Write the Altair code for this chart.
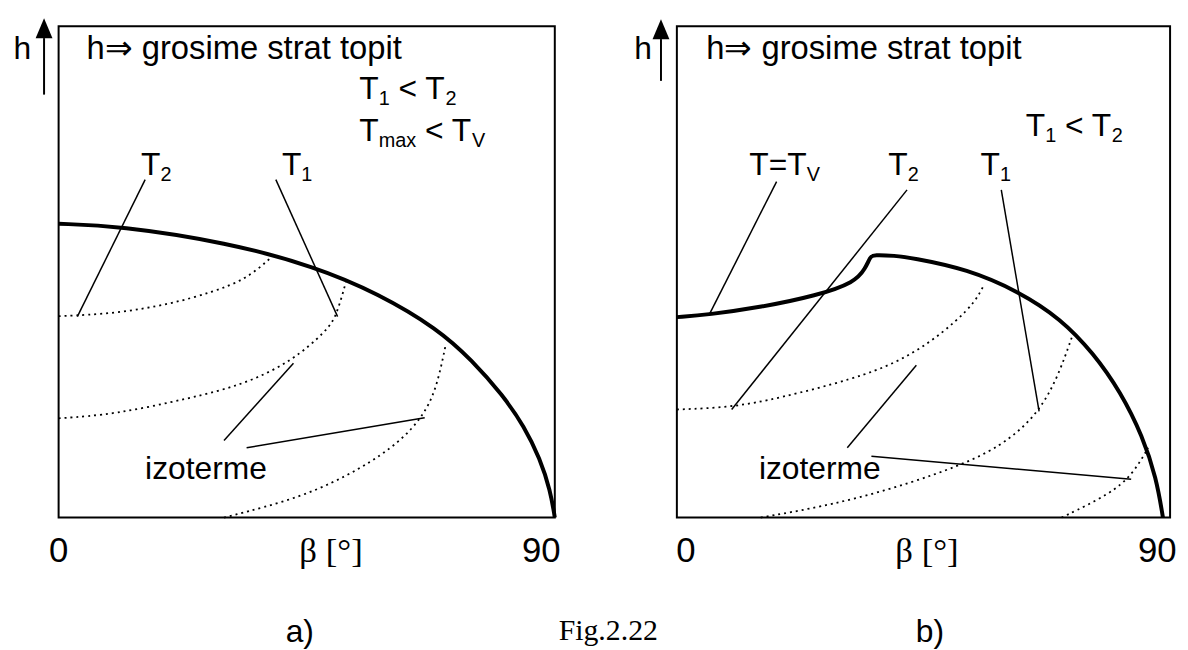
import altair as alt
import pandas as pd

# ---------------- panel a) ----------------
a_front_x = [0, 10.8, 30.6, 46.5, 58.0, 68.8, 75.0, 80.5, 84.5, 87.3, 89.2, 90]
a_front_h = [59.8, 59.4, 56.0, 51.1, 45.6, 38.4, 32.0, 25.0, 18.5, 12.0, 5.5, 0]

a_iso1_x = [0, 10.2, 20.4, 27.9, 34.0, 38.2]
a_iso1_h = [41.0, 41.5, 43.5, 45.9, 48.5, 52.6]
a_iso2_x = [0, 10.2, 23.8, 33.4, 42.2, 48.7, 50.4, 52.1]
a_iso2_h = [20.2, 21.0, 24.3, 27.0, 31.7, 38.1, 41.1, 47.9]
a_iso3_x = [30.0, 44.3, 55.0, 62.0, 66.0, 68.5, 70.2]
a_iso3_h = [0, 4.1, 10.0, 15.5, 20.5, 26.0, 35.1]

# leader lines: x1, h1, x2, h2
a_lead_x1 = [15.7, 39.4, 30.0, 34.1]
a_lead_h1 = [68.8, 68.8, 15.7, 14.2]
a_lead_x2 = [3.4, 50.6, 42.6, 66.4]
a_lead_h2 = [40.9, 40.9, 31.4, 20.3]

# ---------------- panel b) ----------------
b_front_x = [0, 5.7, 15.3, 25.6, 32.5, 34.4, 35.3, 35.9, 39.8, 42.7, 53.0, 62.6, 70.0, 76.0, 81.0, 85.0, 87.5, 88.7]
b_front_h = [40.8, 41.3, 42.8, 45.2, 47.9, 50.7, 53.1, 53.5, 53.3, 52.9, 50.6, 45.9, 40.5, 33.5, 25.5, 16.5, 8.0, 0]

b_iso1_x = [0, 9.8, 18.7, 32.5, 40.0, 46.0, 51.0, 54.5, 56.1]
b_iso1_h = [22.0, 22.4, 24.3, 28.3, 31.5, 35.5, 40.0, 44.0, 47.5]
b_iso2_x = [15.3, 32.5, 53.0, 61.0, 66.1, 69.5, 72.2]
b_iso2_h = [0, 3.4, 10.8, 16.0, 21.6, 28.5, 37.1]
b_iso3_x = [70.2, 79.1, 83.2, 86.0]
b_iso3_h = [0, 4.8, 8.8, 14.2]

b_lead_x1 = [18.2, 42.0, 59.2, 31.1, 35.5]
b_lead_h1 = [68.4, 66.7, 66.7, 14.2, 12.5]
b_lead_x2 = [6.0, 10.0, 66.1, 43.7, 82.9]
b_lead_h2 = [41.5, 22.0, 21.6, 31.0, 7.8]

# ---------------- texts: x, h, text, size, align, font ----------------
SANS = "Liberation Sans"
SERIF = "Liberation Serif"
a_texts = [
    (5.04, 93.33, "h\u21d2 grosime strat topit", 33, "left", SANS),
    (54.54, 85.25, "T", 32, "left", SANS),
    (58.06, 84.04, "1", 20, "left", SANS),
    (61.66, 85.25, "< T", 32, "left", SANS),
    (70.16, 84.04, "2", 20, "left", SANS),
    (54.54, 76.57, "T", 32, "left", SANS),
    (58.06, 75.35, "max", 20, "left", SANS),
    (66.47, 76.57, "< T", 32, "left", SANS),
    (74.96, 75.35, "V", 20, "left", SANS),
    (14.94, 69.70, "T", 32, "left", SANS),
    (18.47, 68.48, "2", 20, "left", SANS),
    (40.50, 69.70, "T", 32, "left", SANS),
    (44.02, 68.48, "1", 20, "left", SANS),
    (26.73, 7.88, "izoterme", 32, "center", SANS),
    (-6.57, 93.33, "h", 32, "center", SANS),
    (0.0, -9.09, "0", 35, "center", SANS),
    (49.41, -9.09, "\u03b2 [\u00b0]", 35, "center", SERIF),
    (87.56, -9.09, "90", 35, "center", SANS),
    (43.74, -25.25, "a)", 32, "center", SANS),
    (99.7, -24.85, "Fig.2.22", 30, "center", SERIF),
]
b_texts = [
    (5.34, 93.33, "h\u21d2 grosime strat topit", 33, "left", SANS),
    (63.65, 77.58, "T", 32, "left", SANS),
    (67.20, 76.36, "1", 20, "left", SANS),
    (70.82, 77.58, "< T", 32, "left", SANS),
    (79.37, 76.36, "2", 20, "left", SANS),
    (13.22, 69.70, "T=T", 32, "left", SANS),
    (23.69, 68.48, "V", 20, "left", SANS),
    (38.57, 69.70, "T", 32, "left", SANS),
    (42.12, 68.48, "2", 20, "left", SANS),
    (55.41, 69.70, "T", 32, "left", SANS),
    (58.96, 68.48, "1", 20, "left", SANS),
    (26.08, 7.88, "izoterme", 32, "center", SANS),
    (-6.16, 93.33, "h", 32, "center", SANS),
    (1.63, -9.09, "0", 35, "center", SANS),
    (45.64, -9.09, "\u03b2 [\u00b0]", 35, "center", SERIF),
    (87.65, -9.09, "90", 35, "center", SANS),
    (46.18, -25.25, "b)", 32, "center", SANS),
]

# arrow on the h axis: x, shaft bottom, shaft top, head centre
a_arrow = (-2.64, 86.1, 97.6, 99.6)
b_arrow = (-2.90, 88.9, 97.4, 99.4)

XS = alt.Scale(domain=[0, 90], nice=False, zero=False)
YS = alt.Scale(domain=[0, 100], nice=False, zero=False)


def curve_df(curves):
    rows = []
    for name, xs, hs in curves:
        for i, (x, h) in enumerate(zip(xs, hs)):
            rows.append({"curve": name, "x": x, "h": h, "i": i})
    return pd.DataFrame(rows)


def panel(front, isos, leads, texts, arrow, width):
    fdf = curve_df([front])
    idf = curve_df(isos)
    ldf = pd.DataFrame({"x": leads[0], "h": leads[1], "x2": leads[2], "h2": leads[3]})
    x_enc = alt.X("x:Q", scale=XS, axis=None)
    y_enc = alt.Y("h:Q", scale=YS, axis=None)

    thick = alt.Chart(fdf).mark_line(color="black", strokeWidth=4, interpolate="basis").encode(
        x=x_enc, y=y_enc, order="i:Q")
    dotted = alt.Chart(idf).mark_line(color="black", strokeWidth=1.8, strokeDash=[2, 4],
                                      interpolate="basis").encode(
        x=x_enc, y=y_enc, detail="curve:N", order="i:Q")
    lead = alt.Chart(ldf).mark_rule(color="black", strokeWidth=1.5).encode(
        x=x_enc, y=y_enc, x2="x2:Q", y2="h2:Q")

    adf = pd.DataFrame({"x": [arrow[0]], "h": [arrow[1]], "h2": [arrow[2]], "hh": [arrow[3]]})
    shaft = alt.Chart(adf).mark_rule(color="black", strokeWidth=2).encode(
        x=x_enc, y=y_enc, y2="h2:Q")
    head = alt.Chart(adf).mark_point(shape="M0,-1L0.85,1L-0.85,1Z", size=400, filled=True,
                                     color="black", opacity=1).encode(
        x=x_enc, y=alt.Y("hh:Q", scale=YS, axis=None))

    tdf = pd.DataFrame(texts, columns=["x", "h", "text", "size", "align", "font"])
    text_layers = []
    for (al, fo), sub in tdf.groupby(["align", "font"]):
        text_layers.append(
            alt.Chart(sub).mark_text(align=al, baseline="alphabetic", font=fo, color="black").encode(
                x=x_enc, y=y_enc, text="text:N", size=alt.Size("size:Q", scale=None)))

    return alt.layer(dotted, lead, thick, shaft, head, *text_layers).properties(width=width, height=495)


pa = panel(("front", a_front_x, a_front_h),
           [("i1", a_iso1_x, a_iso1_h), ("i2", a_iso2_x, a_iso2_h), ("i3", a_iso3_x, a_iso3_h)],
           (a_lead_x1, a_lead_h1, a_lead_x2, a_lead_h2), a_texts, a_arrow, 500)
pb = panel(("front", b_front_x, b_front_h),
           [("i1", b_iso1_x, b_iso1_h), ("i2", b_iso2_x, b_iso2_h), ("i3", b_iso3_x, b_iso3_h)],
           (b_lead_x1, b_lead_h1, b_lead_x2, b_lead_h2), b_texts, b_arrow, 497)

chart = alt.hconcat(pa, pb, spacing=123, bounds="flush").properties(
    padding={"left": 4, "top": 6, "right": 2, "bottom": 0},
    background="white",
).configure_view(stroke="black", strokeWidth=2)

chart.save("out.html", embed_options={"renderer": "svg", "actions": False})
